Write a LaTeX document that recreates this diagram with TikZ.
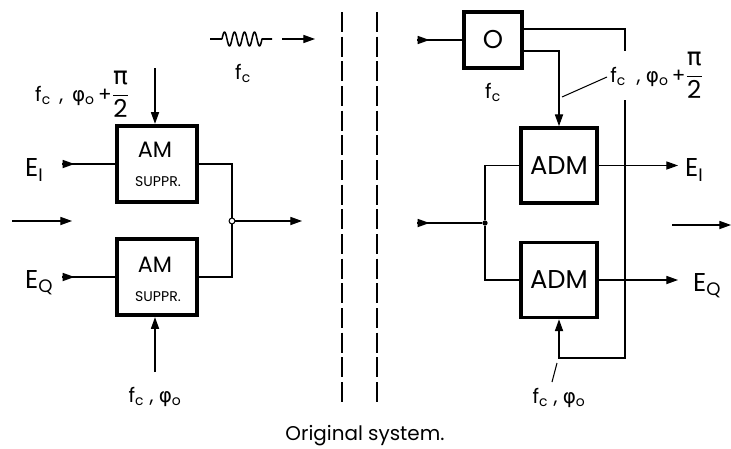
\documentclass[tikz,border=0pt]{standalone}
\usepackage{fontspec}
\setmainfont{Poppins}
\newfontfamily\grk{DejaVu Sans}
\usetikzlibrary{arrows.meta,decorations.markings}
\begin{document}
\begin{tikzpicture}[x=0.03cm,y=-0.03cm,
  box/.style={draw,line width=3.2pt,inner sep=0pt},
  wire/.style={line width=0.9pt},
  tip/.style={wire,-{Triangle[length=10pt,width=7pt]}},
  feed/.style={wire,postaction={decorate},decoration={markings,
    mark=at position 0.37cm with {\arrow{Triangle[length=10pt,width=7pt]}}}},
  sep/.style={line width=1.8pt,dash pattern=on 0.6cm off 0.14cm},
  big/.style={font=\fontsize{22}{22}\selectfont,inner sep=0pt},
  mid/.style={font=\fontsize{19}{19}\selectfont,inner sep=0pt},
  small/.style={font=\fontsize{12}{12}\selectfont,inner sep=0pt},
  lbl/.style={font=\fontsize{17}{17}\selectfont,inner sep=0pt}]
  \useasboundingbox (0,0) rectangle (731,448);
  \draw[sep](342,12)--(342,402);
  \draw[sep](377,12)--(377,405);
  \draw[line width=1.3pt,line join=round](210,39)--(222,39)
	plot[samples=81,domain=0:40]
	({222+\x}, {39-7*sin(\x*36)})--(272,39);
  \coordinate (wv1) at (282,39);
  \coordinate (wv2) at (315,39);
  \draw[tip](wv1)--(wv2);
  \node[lbl] (wv-f) at (243,73) {f\textsubscript{c}};
  \node[box,minimum width=2.4cm,minimum height=2.3cm] (am1) at (157,164) {};
  \node[mid] (am1-t) at (155,150) {AM};
  \node[small] (am1-s) at (158,182) {SUPPR.};
  \node[box,minimum width=2.4cm,minimum height=2.3cm] (am2) at (157,277) {};
  \node[mid] (am2-t) at (155,265) {AM};
  \node[small] (am2-s) at (158,297) {SUPPR.};
  \node[lbl,anchor=base west] (am1-f) at (35,101)
	{f\textsubscript{c}\, ,\, {\grk φ}\textsubscript{o}\,+{\fontsize{21}{21}\selectfont$\displaystyle\frac{\mbox{\grk π}}{\mbox{2}}$}};
  \node[lbl] (am2-f) at (155,397) {f\textsubscript{c} , {\grk φ}\textsubscript{o}};
  \coordinate (am1-c) at (155,68);
  \coordinate (am2-c) at (155,372);
  \draw[tip](am1-c)--(am1-c |- am1.north);
  \draw[tip](am2-c)--(am2-c |- am2.south);
  \node[big,anchor=west] (ei) at (25,170) {E\textsubscript{I}};
  \node[big,anchor=west] (eq) at (25,283) {E\textsubscript{Q}};
  \coordinate (ei-in) at (62,164);
  \coordinate (eq-in) at (62,277);
  \draw[feed](ei-in)--(am1.west);
  \draw[feed](eq-in)--(am2.west);
  \node[circle,draw,wire,fill=white,inner sep=0pt,minimum size=5pt] (sum) at (232,221) {};
  \draw[wire](am1.east)-|(sum);
  \draw[wire](am2.east)-|(sum);
  \coordinate (sum-out) at (302,221);
  \draw[tip](sum)--(sum-out);
  \coordinate (le1) at (12,221);
  \coordinate (le2) at (72,221);
  \draw[tip](le1)--(le2);
  \node[box,big,minimum width=1.74cm,minimum height=1.68cm] (osc) at (493,40) {O};
  \node[lbl] (osc-f) at (493,92) {f\textsubscript{c}};
  \coordinate (osc-in) at (417,40);
  \draw[feed](osc-in)--(osc.west);
  \node[box,big,minimum width=2.28cm,minimum height=2.25cm] (adm1) at (559,165.5) {ADM};
  \node[box,big,minimum width=2.28cm,minimum height=2.25cm] (adm2) at (559,280) {ADM};
  \draw[tip](osc.east |- 0,51)-|(adm1.north);
  \draw[tip](osc.east |- 0,29)-|(625,358)-|(adm2.south);
  \node[circle,fill,inner sep=0pt,minimum size=4.5pt] (split) at (485,223) {};
  \coordinate (dm-in) at (417,223);
  \draw[feed](dm-in)--(split);
  \draw[wire](split)|-(adm1.west);
  \draw[wire](split)|-(adm2.west);
  \node[big,anchor=west] (ei-o) at (685,170) {E\textsubscript{I}};
  \node[big,anchor=west] (eq-o) at (693,286) {E\textsubscript{Q}};
  \coordinate (ei-end) at (678,165.5);
  \coordinate (eq-end) at (678,280);
  \draw[tip](adm1.east)--(ei-end);
  \draw[tip](adm2.east)--(eq-end);
  \node[lbl,anchor=base west,fill=white,inner sep=1pt] (adm1-f) at (609,82)
	{f\textsubscript{c}\ \ ,\ {\grk φ}\textsubscript{o}\,+{\fontsize{21}{21}\selectfont$\displaystyle\frac{\mbox{\grk π}}{\mbox{2}}$}};
  \node[lbl] (adm2-f) at (559,398) {f\textsubscript{c} , {\grk φ}\textsubscript{o}};
  \coordinate (ld1) at (562,97);
  \coordinate (ld2) at (607,77);
  \draw[wire](ld1)--(ld2);
  \coordinate (ld3) at (557,363);
  \coordinate (ld4) at (552,382);
  \draw[wire](ld3)--(ld4);
  \coordinate (re1) at (672,225);
  \coordinate (re2) at (731,225);
  \draw[tip](re1)--(re2);
  \node[lbl] (caption) at (365,436) {Original system.};
\end{tikzpicture}
\end{document}
